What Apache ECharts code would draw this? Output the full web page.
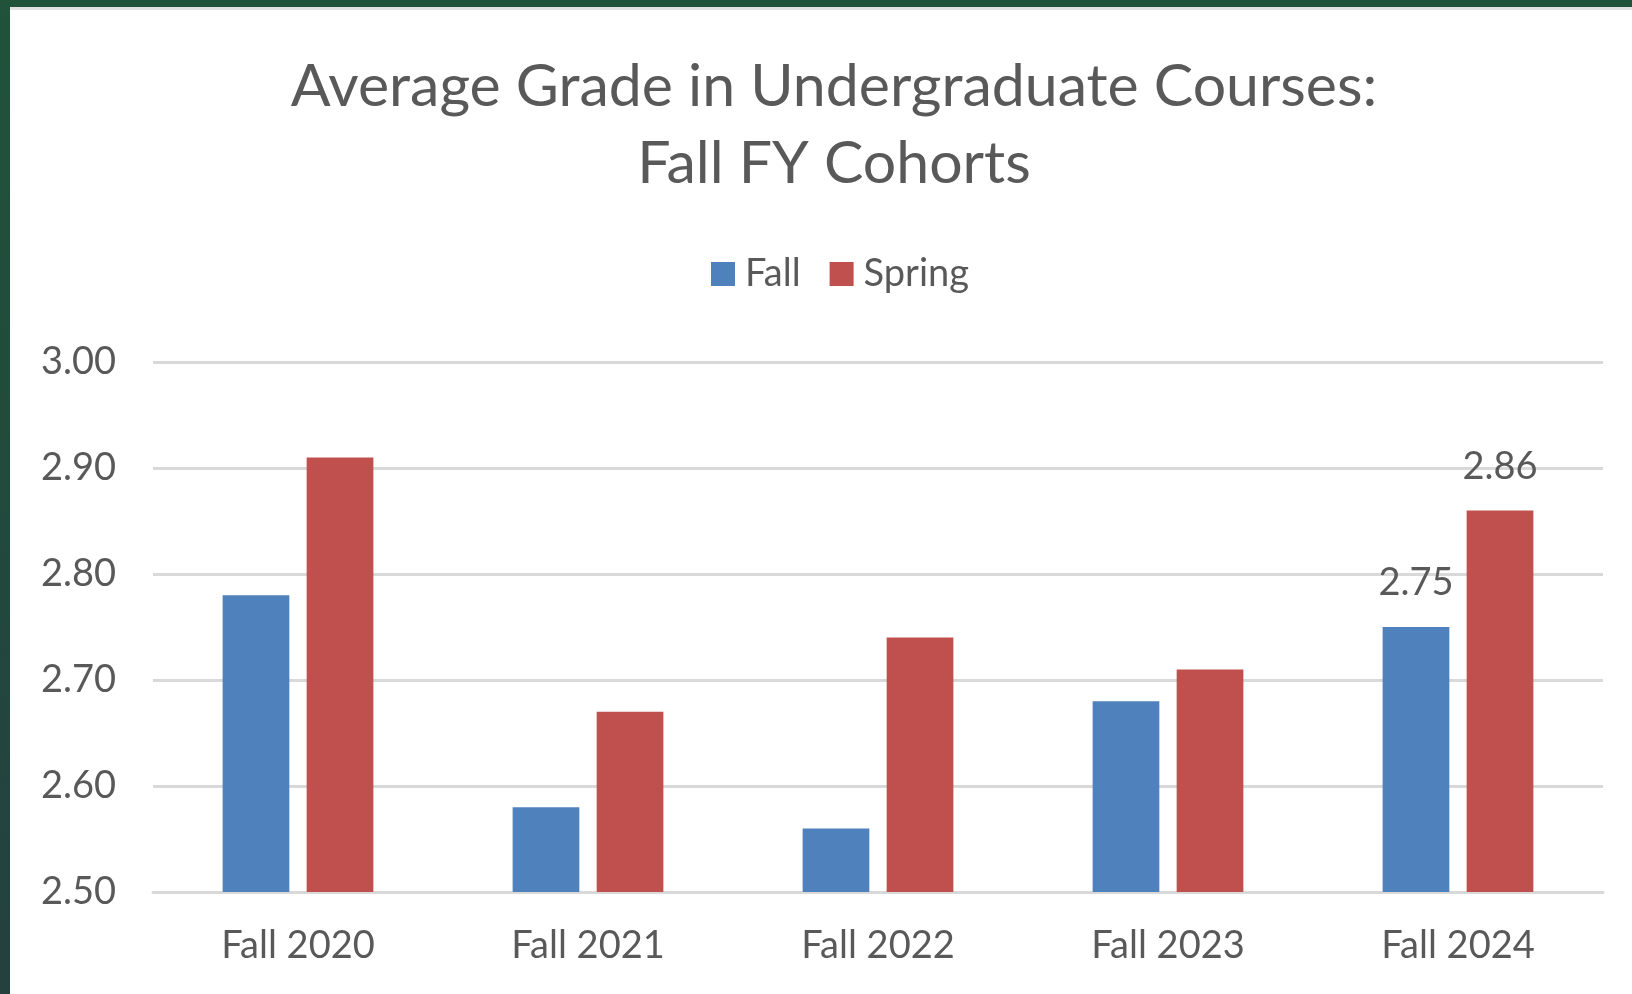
<!DOCTYPE html>
<html>
<head>
<meta charset="utf-8">
<script src="https://cdn.jsdelivr.net/npm/echarts@6/dist/echarts.min.js"></script>
<style>
html,body{margin:0;padding:0;background:#fff;}
#chart{width:1632px;height:994px;}
</style>
</head>
<body>
<div id="chart"></div>
<script>
const categories = ['Fall 2020', 'Fall 2021', 'Fall 2022', 'Fall 2023', 'Fall 2024'];
const fallValues = [2.78, 2.58, 2.56, 2.68, 2.75];
const springValues = [2.91, 2.67, 2.74, 2.71, 2.86];
const seriesNames = ['Fall', 'Spring'];
const titleLines = ['Average Grade in Undergraduate Courses:', 'Fall FY Cohorts'];
const yMin = 2.5, yMax = 3.0, yStep = 0.1;

const FONT = 'Lato';
const TXT = '#595959';
const chart = echarts.init(document.getElementById('chart'), null, {renderer: 'canvas'});
const lastIdx = categories.length - 1;
const labelCfg = {
  show: true,
  position: 'top',
  distance: 25,
  color: TXT,
  fontFamily: FONT,
  fontSize: 38,
  lineHeight: 38,
  formatter: p => p.dataIndex === lastIdx ? p.value.toFixed(2) : ''
};
chart.setOption({
  backgroundColor: '#ffffff',
  animation: false,
  graphic: [
    {type: 'rect', left: 0, top: 0, shape: {width: 1632, height: 7}, style: {fill: '#20533a'}, z: 10},
    {type: 'rect', left: 10, top: 7, shape: {width: 1622, height: 3}, style: {fill: '#e2e2e2'}, z: 10},
    {type: 'rect', left: 0, top: 0, shape: {width: 10, height: 994},
     style: {fill: new echarts.graphic.LinearGradient(0, 0, 0, 1, [{offset: 0, color: '#20533a'}, {offset: 1, color: '#24403f'}])}, z: 10}
  ],
  title: {
    text: titleLines.join('\n'),
    left: 829,
    top: 43,
    textAlign: 'center',
    textStyle: {color: TXT, fontFamily: FONT, fontSize: 59, fontWeight: 'normal', lineHeight: 77}
  },
  legend: {
    data: seriesNames,
    left: 706,
    top: 250,
    itemWidth: 24,
    itemHeight: 24,
    itemGap: 29,
    icon: 'rect',
    textStyle: {color: TXT, fontFamily: FONT, fontSize: 38, padding: [0, 0, 0, 5]}
  },
  grid: {left: 153, right: 29, top: 362, bottom: 102, containLabel: false},
  xAxis: {
    type: 'category',
    data: categories,
    axisLine: {show: true, lineStyle: {color: '#d9d9d9', width: 3}},
    axisTick: {show: false},
    axisLabel: {color: TXT, fontFamily: FONT, fontSize: 38, margin: 35}
  },
  yAxis: {
    type: 'value',
    min: yMin,
    max: yMax,
    interval: yStep,
    axisLine: {show: false},
    axisTick: {show: false},
    splitLine: {lineStyle: {color: '#d9d9d9', width: 3}},
    axisLabel: {color: TXT, fontFamily: FONT, fontSize: 38, margin: 37, formatter: v => v.toFixed(2)}
  },
  series: [
    {name: seriesNames[0], type: 'bar', data: fallValues, barWidth: '23%', barGap: '26%',
     itemStyle: {color: '#4f81bd'}, label: labelCfg},
    {name: seriesNames[1], type: 'bar', data: springValues, barWidth: '23%', barGap: '26%',
     itemStyle: {color: '#c0504d'}, label: labelCfg}
  ]
});
</script>
</body>
</html>
